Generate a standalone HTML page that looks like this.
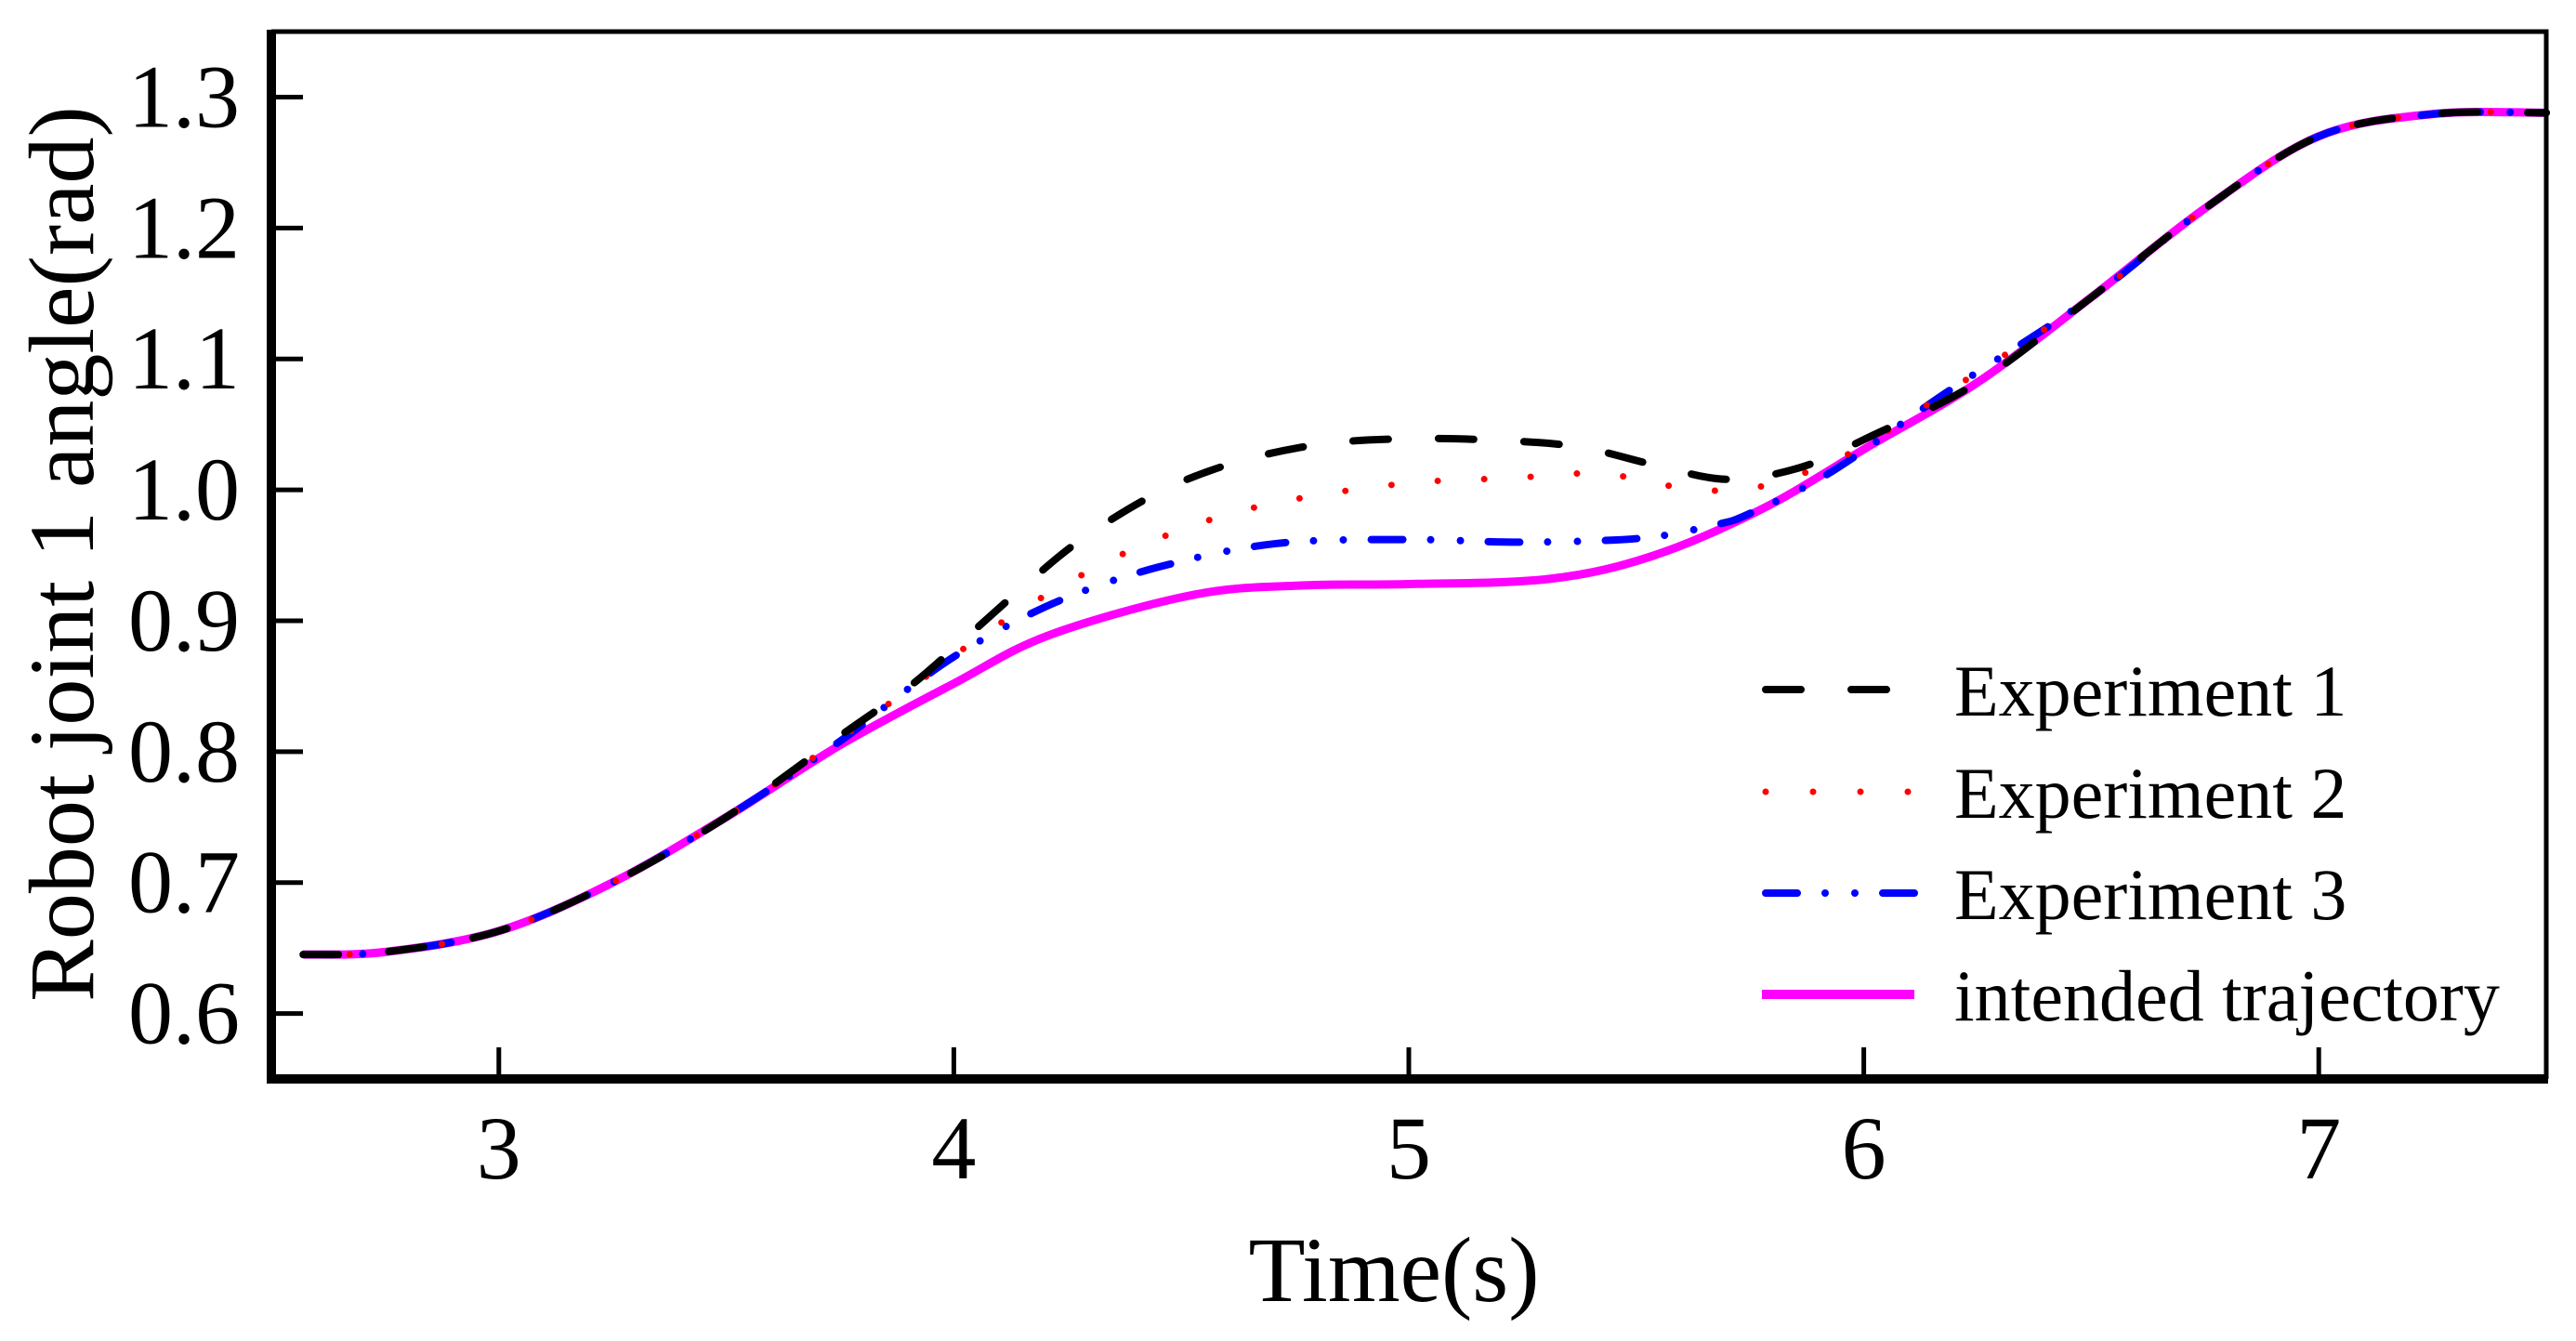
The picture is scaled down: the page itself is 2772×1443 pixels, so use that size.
<!DOCTYPE html>
<html><head><meta charset="utf-8"><style>
html,body{margin:0;padding:0;background:#fff;}
svg{display:block;}
text{font-family:"Liberation Serif",serif;fill:#000;}
</style></head><body>
<svg id="chart" width="2772" height="1443" viewBox="0 0 2772 1443">
<g id="plot"></g>
<g id="axes"></g>
<g id="legend"></g>
</svg>
<script>
const xTicks = [3, 4, 5, 6, 7];
const yTicks = [0.6, 0.7, 0.8, 0.9, 1.0, 1.1, 1.2, 1.3];
const yTickLabels = ["0.6","0.7","0.8","0.9","1.0","1.1","1.2","1.3"];
const intendedT = [2.57,2.75,3.0,3.25,3.5,3.75,4.0,4.21,4.53,4.77,5.0,5.31,5.54,5.78,6.01,6.25,6.5,6.75,7.0,7.25,7.5];
const intendedV = [0.645,0.647,0.663,0.700,0.750,0.805,0.852,0.889,0.920,0.927,0.928,0.932,0.950,0.986,1.033,1.082,1.147,1.215,1.270,1.287,1.288];
const exp1T = [2.57,2.75,3.0,3.25,3.5,3.75,3.9,4.02,4.15,4.28,4.45,4.62,4.81,5.0,5.18,5.37,5.54,5.70,5.86,6.01,6.25,6.5,6.75,7.0,7.25,7.5];
const exp1V = [0.645,0.647,0.663,0.700,0.750,0.812,0.849,0.885,0.925,0.962,0.998,1.021,1.035,1.039,1.038,1.033,1.019,1.008,1.017,1.040,1.082,1.147,1.215,1.270,1.287,1.288];
const exp2T = [2.57,2.75,3.0,3.25,3.5,3.75,3.93,4.08,4.24,4.41,4.61,4.82,5.03,5.23,5.34,5.44,5.54,5.64,5.72,5.81,5.97,6.18,6.5,6.75,7.0,7.25,7.5];
const exp2V = [0.645,0.647,0.663,0.700,0.750,0.810,0.855,0.893,0.927,0.957,0.982,0.997,1.006,1.009,1.012,1.012,1.005,1.000,1.000,1.006,1.028,1.074,1.147,1.215,1.270,1.287,1.288];
const exp3T = [2.57,2.75,3.0,3.25,3.5,3.75,3.9,4.04,4.23,4.45,4.71,5.0,5.25,5.51,5.67,5.75,5.93,6.18,6.5,6.75,7.0,7.25,7.5];
const exp3V = [0.645,0.647,0.663,0.700,0.750,0.808,0.848,0.881,0.915,0.941,0.959,0.962,0.960,0.963,0.973,0.982,1.014,1.074,1.147,1.215,1.270,1.287,1.288];

const L=292, R=2740, T=34, B=1161;
const X0=2.5, X1=7.5, Y0=0.55, Y1=1.35;
const xs = v => L + (v-X0)/(X1-X0)*(R-L);
const ys = v => B - (v-Y0)/(Y1-Y0)*(B-T);
const NS="http://www.w3.org/2000/svg";
function mk(tag, attrs, parent){const e=document.createElementNS(NS,tag);for(const k in attrs)e.setAttribute(k,attrs[k]);parent.appendChild(e);return e;}
function pathFrom(ts, vs){
  const p=ts.map((t,i)=>[xs(t),ys(vs[i])]);
  let d="M"+p[0][0]+","+p[0][1];
  for(let i=0;i<p.length-1;i++){
    const p0=p[Math.max(0,i-1)],p1=p[i],p2=p[i+1],p3=p[Math.min(p.length-1,i+2)];
    const c1=[p1[0]+(p2[0]-p0[0])/6,p1[1]+(p2[1]-p0[1])/6];
    const c2=[p2[0]-(p3[0]-p1[0])/6,p2[1]-(p3[1]-p1[1])/6];
    d+=" C"+c1[0]+","+c1[1]+" "+c2[0]+","+c2[1]+" "+p2[0]+","+p2[1];
  }
  return d;
}
const plot=document.getElementById('plot');
const axes=document.getElementById('axes');
const legend=document.getElementById('legend');

const s0=mk('path',{d:pathFrom(intendedT,intendedV),fill:'none',stroke:'#ff00ff','stroke-width':9},plot);


const s3=mk('path',{d:pathFrom(exp3T,exp3V),fill:'none',stroke:'#0000ff','stroke-width':8,'stroke-linecap':'round','stroke-dasharray':'34 30 0 32 0 30'},plot);


const s2=mk('path',{d:pathFrom(exp2T,exp2V),fill:'none',stroke:'#ff0000','stroke-width':7,'stroke-linecap':'round','stroke-dasharray':'0 50'},plot);


const s1=mk('path',{d:pathFrom(exp1T,exp1V),fill:'none',stroke:'#000','stroke-width':8,'stroke-linecap':'round','stroke-dasharray':'38 54'},plot);



const fr=mk('path',{d:`M${L},${T} H${R} V${B}`,fill:'none',stroke:'#000','stroke-width':5},axes);


const xa=mk('line',{x1:L-5,y1:B,x2:R+2,y2:B,stroke:'#000','stroke-width':10},axes);


const ya=mk('line',{x1:L,y1:T-2,x2:L,y2:B+5,stroke:'#000','stroke-width':10},axes);



xTicks.forEach(v=>{
  const t=mk('line',{x1:xs(v),y1:B,x2:xs(v),y2:B-34,stroke:'#000','stroke-width':5},axes);
  
  
  const l=mk('text',{x:xs(v),y:1268,'font-size':96,'text-anchor':'middle'},axes);
  l.textContent=String(v);
  
  
});
yTicks.forEach((v,i)=>{
  const t=mk('line',{x1:L,y1:ys(v),x2:L+34,y2:ys(v),stroke:'#000','stroke-width':5},axes);
  
  
  const l=mk('text',{x:258,y:ys(v)+32,'font-size':96,'text-anchor':'end'},axes);
  l.textContent=yTickLabels[i];
  
  
});
const xt=mk('text',{x:1500,y:1400,'font-size':100,'text-anchor':'middle'},axes);
xt.textContent='Time(s)';


const yt=mk('text',{x:0,y:0,'font-size':100,'text-anchor':'middle',transform:'translate(100,596) rotate(-90)'},axes);
yt.textContent='Robot joint 1 angle(rad)';



const legNames=['Experiment 1','Experiment 2','Experiment 3','intended trajectory'];
const legRowY=[742,852,961,1070];
const legStyles=[
 {stroke:'#000','stroke-width':8,'stroke-linecap':'round','stroke-dasharray':'38 54'},
 {stroke:'#ff0000','stroke-width':7,'stroke-linecap':'round','stroke-dasharray':'0 51'},
 {stroke:'#0000ff','stroke-width':8,'stroke-linecap':'round','stroke-dasharray':'34 30 0 32 0 30'},
 {stroke:'#ff00ff','stroke-width':10}
];
legNames.forEach((n,i)=>{
  const g=mk('g',{},legend);
  
  
  const a=Object.assign({x1:1900,y1:legRowY[i],x2:2060,y2:legRowY[i],fill:'none'},legStyles[i]);
  if(i===3){a.x1=1896;a.x2=2060;}
  mk('line',a,g);
  const t=mk('text',{x:2103,y:legRowY[i]+28,'font-size':78},g);
  t.textContent=n;
});
</script>
</body></html>
